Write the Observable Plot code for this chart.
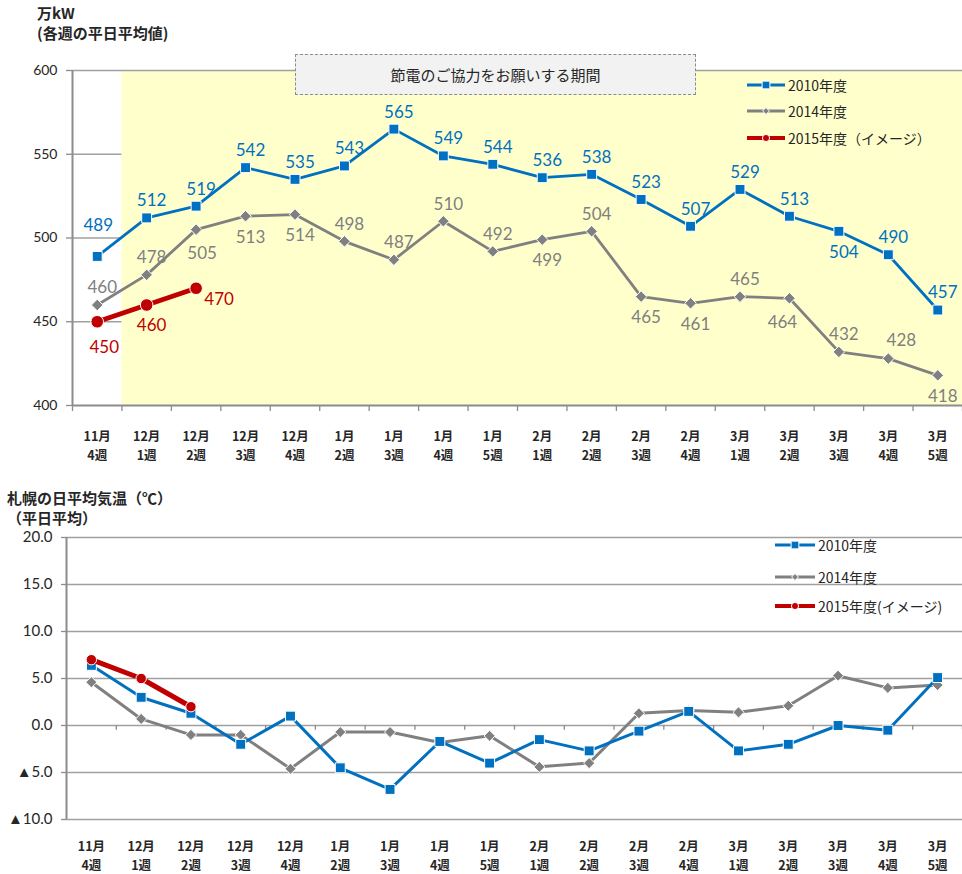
<!DOCTYPE html>
<html>
<head>
<meta charset="utf-8">
<script src="https://cdn.jsdelivr.net/npm/d3@7"></script>
<script src="https://cdn.jsdelivr.net/npm/@observablehq/plot@0.6"></script>
<style>
  html, body { margin: 0; padding: 0; background: #fff; }
  #wrap { position: relative; width: 962px; height: 874px; overflow: hidden; font-family: "Noto Sans CJK JP", "Noto Sans", sans-serif; color: #262626; }
  #wrap svg.plot { position: absolute; left: 0; }
  .lbl { position: absolute; white-space: nowrap; line-height: 18px; }
  .title { font-size: 15px; font-weight: bold; color: #262626; }
  .callout { position: absolute; left: 295px; top: 54px; width: 401px; height: 41px; box-sizing: border-box;
    border: 1.3px dashed #8c8c8c; background: #f2f2f2; display: flex; align-items: center; justify-content: center;
    font-size: 15px; color: #262626; }
  .leg { position: absolute; display: flex; align-items: center; font-size: 14px; color: #262626; height: 20px; white-space: nowrap; }
  .leg svg { display: block; margin-right: 3px; }
</style>
</head>
<body>
<div id="wrap"></div>
<script>
// ---------------- DATA ----------------
const categories = ["11月\n4週","12月\n1週","12月\n2週","12月\n3週","12月\n4週","1月\n2週","1月\n3週","1月\n4週","1月\n5週",
  "2月\n1週","2月\n2週","2月\n3週","2月\n4週","3月\n1週","3月\n2週","3月\n3週","3月\n4週","3月\n5週"];
const demand2010 = [489, 512, 519, 542, 535, 543, 565, 549, 544, 536, 538, 523, 507, 529, 513, 504, 490, 457];
const demand2014 = [460, 478, 505, 513, 514, 498, 487, 510, 492, 499, 504, 465, 461, 465, 464, 432, 428, 418];
const demand2015 = [450, 460, 470];
const demandTicks = [400, 450, 500, 550, 600];

const temp2010 = [6.4, 3.0, 1.3, -2.0, 1.0, -4.5, -6.8, -1.7, -4.0, -1.5, -2.7, -0.6, 1.5, -2.7, -2.0, 0.0, -0.5, 5.1];
const temp2014 = [4.6, 0.7, -1.0, -1.0, -4.6, -0.7, -0.7, -1.8, -1.1, -4.4, -4.0, 1.3, 1.6, 1.4, 2.1, 5.3, 4.0, 4.3];
const temp2015 = [7.0, 5.0, 2.0];
const tempTicks = [20, 15, 10, 5, 0, -5, -10];
const tempTickLabels = ["20.0", "15.0", "10.0", "5.0", "0.0", "▲5.0", "▲10.0"];

const savingPeriodStart = "12月\n1週";
const calloutText = "節電のご協力をお願いする期間";
const legendTop = ["2010年度", "2014年度", "2015年度（イメージ）"];
const legendBottom = ["2010年度", "2014年度", "2015年度(イメージ)"];

// label placement (style only)
const place2010 = ["farAbove","above","above","above","above","above","above","above","above","above","above","above","above","above","above","below","above","above"];
const place2014 = ["above","above","belowRight","below","below","above","above","above","above","below","above","below","below","above","belowLeft","above","aboveRight","below"];
const place2015 = ["belowFar","below","right"];

// ---------------- STYLE ----------------
const BLUE = "#0070C0", GRAY = "#808080", RED = "#C00000";
const GRID = "#a0a0a0", AXIS = "#8c8c8c", TEXT = "#262626";
const NUMFONT = "Lato, 'Open Sans', sans-serif";
const JPFONT = "'Noto Sans CJK JP', 'Noto Sans', sans-serif";
const offsets = {
  above: [5, -17], farAbove: [1, -31], below: [5, 21], belowFar: [7, 26], belowLeft: [-7, 24],
  belowRight: [6, 24], aboveRight: [13, -18], right: [23, 11]
};

const n = categories.length;
const boundaries = d3.range(n + 1).map(i => i - 0.5);
const rows = vals => vals.map((v, i) => ({i, v}));
const startIdx = categories.indexOf(savingPeriodStart);

function labelMarks(vals, places, color) {
  const data = vals.map((v, i) => ({i, v, p: places[i]}));
  return Object.entries(offsets).map(([k, [dx, dy]]) =>
    Plot.text(data.filter(d => d.p === k), {x: "i", y: "v", text: d => String(d.v), dx, dy,
      fill: color, fontSize: 17, fontFamily: NUMFONT}));
}

function seriesMarks(vals, color, symbol, r, sw) {
  return [
    Plot.line(rows(vals), {x: "i", y: "v", stroke: color, strokeWidth: sw, strokeLinejoin: "round"}),
    Plot.dot(rows(vals), {x: "i", y: "v", symbol, r, fill: color, stroke: "white", strokeWidth: 1})
  ];
}

// ---------------- TOP CHART ----------------
const topChart = Plot.plot({
  width: 962, height: 470,
  marginLeft: 72, marginRight: 0, marginTop: 70, marginBottom: 65,
  x: {type: "linear", domain: [-0.5, n - 0.5], axis: null},
  y: {domain: [400, 600], axis: null},
  style: {background: "transparent", overflow: "visible"},
  marks: [
    Plot.ruleY(demandTicks.slice(1, -1), {stroke: GRID, strokeWidth: 1.3}),
    Plot.rect([startIdx], {x1: d => d - 0.5, x2: n - 0.5, y1: demandTicks[0], y2: demandTicks[demandTicks.length - 1], fill: "#ffffcc"}),
    Plot.ruleY([600], {stroke: GRID, strokeWidth: 1.3}),
    Plot.ruleY([400], {stroke: AXIS, strokeWidth: 2}),
    Plot.ruleX([-0.5], {stroke: AXIS, strokeWidth: 2}),
    Plot.axisY({ticks: demandTicks, tickSize: 6, tickFormat: () => "", label: null, stroke: AXIS, strokeWidth: 1.3}),
    Plot.text(demandTicks, {y: d => d, text: d => String(d), frameAnchor: "left", dx: -15, textAnchor: "end",
      fontSize: 14, fill: TEXT, fontFamily: NUMFONT}),
    Plot.axisX({ticks: boundaries, tickSize: 6, tickFormat: () => "", label: null, stroke: AXIS, strokeWidth: 1.3}),
    Plot.text(categories, {x: (d, i) => i, text: d => d, frameAnchor: "bottom", lineAnchor: "top", dy: 21.5,
      lineHeight: 1.55, fontSize: 12.5, fontWeight: "bold", fill: TEXT, fontFamily: JPFONT}),
    ...seriesMarks(demand2014, GRAY, "diamond2", 5.2, 2.8),
    ...seriesMarks(demand2010, BLUE, "square", 5.6, 2.8),
    ...seriesMarks(demand2015, RED, "circle", 6.3, 5),
    ...labelMarks(demand2014, place2014, GRAY),
    ...labelMarks(demand2010, place2010, BLUE),
    ...labelMarks(demand2015, place2015, RED)
  ]
});
topChart.style.top = "0px";

// ---------------- BOTTOM CHART ----------------
const bottomChart = Plot.plot({
  width: 962, height: 404,
  marginLeft: 66, marginRight: 0, marginTop: 67, marginBottom: 55,
  x: {type: "linear", domain: [-0.5, n - 0.5], axis: null},
  y: {domain: [-10, 20], axis: null},
  style: {background: "transparent", overflow: "visible"},
  marks: [
    Plot.ruleY(tempTicks, {stroke: GRID, strokeWidth: 1.3}),
    Plot.ruleX([-0.5], {stroke: AXIS, strokeWidth: 2}),
    Plot.ruleX(boundaries.slice(1), {y1: 0, y2: -0.5, stroke: AXIS, strokeWidth: 1.3}),
    Plot.axisY({ticks: tempTicks, tickSize: 5, tickFormat: () => "", label: null, stroke: AXIS, strokeWidth: 1.3}),
    Plot.text(tempTicks, {y: d => d, text: (d, i) => tempTickLabels[i], frameAnchor: "left", dx: -14, textAnchor: "end",
      fontSize: 15, fill: TEXT, fontFamily: NUMFONT}),
    Plot.text(categories, {x: (d, i) => i, text: d => d, frameAnchor: "bottom", lineAnchor: "top", dy: 18,
      lineHeight: 1.5, fontSize: 12.5, fontWeight: "bold", fill: TEXT, fontFamily: JPFONT}),
    ...seriesMarks(temp2014, GRAY, "diamond2", 5, 3),
    ...seriesMarks(temp2010, BLUE, "square", 5.6, 3),
    ...seriesMarks(temp2015, RED, "circle", 5.2, 5)
  ]
});
bottomChart.style.top = "470px";

// ---------------- ASSEMBLE ----------------
const wrap = document.getElementById("wrap");
topChart.classList.add("plot"); bottomChart.classList.add("plot");
wrap.appendChild(topChart);
wrap.appendChild(bottomChart);

function addLabel(text, left, centerY, cls) {
  const d = document.createElement("div");
  d.className = "lbl " + cls;
  d.textContent = text;
  d.style.left = left + "px";
  d.style.top = (centerY - 9) + "px";
  wrap.appendChild(d);
}
addLabel("万kW", 37, 13, "title");
addLabel("(各週の平日平均値)", 37, 33, "title");
addLabel("札幌の日平均気温（℃）", 7, 498, "title");
addLabel("（平日平均）", 7, 518, "title");

const co = document.createElement("div");
co.className = "callout";
co.textContent = calloutText;
wrap.appendChild(co);

function legendSample(color, symbol, len, sw, size) {
  const ns = "http://www.w3.org/2000/svg";
  const s = document.createElementNS(ns, "svg");
  s.setAttribute("width", len); s.setAttribute("height", 14);
  const l = document.createElementNS(ns, "line");
  l.setAttribute("x1", 0); l.setAttribute("x2", len); l.setAttribute("y1", 7); l.setAttribute("y2", 7);
  l.setAttribute("stroke", color); l.setAttribute("stroke-width", sw);
  s.appendChild(l);
  const p = document.createElementNS(ns, "path");
  const sym = symbol === "square" ? d3.symbolSquare : symbol === "diamond" ? d3.symbolDiamond2 : d3.symbolCircle;
  p.setAttribute("d", d3.symbol(sym, size)());
  p.setAttribute("transform", `translate(${len / 2},7)`);
  p.setAttribute("fill", color); p.setAttribute("stroke", "white"); p.setAttribute("stroke-width", 1);
  s.appendChild(p);
  return s;
}
function addLegend(text, left, centerY, color, symbol, len, sw, size) {
  const d = document.createElement("div");
  d.className = "leg";
  d.style.left = left + "px";
  d.style.top = (centerY - 10) + "px";
  d.appendChild(legendSample(color, symbol, len, sw, size));
  const t = document.createElement("span");
  t.textContent = text;
  d.appendChild(t);
  wrap.appendChild(d);
}
const legStyles = [[BLUE, "square", 3, 60], [GRAY, "diamond", 3, 30], [RED, "circle", 4, 40]];
const topLegY = [85, 111, 138], botLegY = [545, 577, 606];
legStyles.forEach(([c, s, sw, sz], k) => {
  addLegend(legendTop[k], 747, topLegY[k], c, s, 38, sw, sz);
  addLegend(legendBottom[k], 775, botLegY[k], c, s, 40, sw, sz);
});
</script>
</body>
</html>
